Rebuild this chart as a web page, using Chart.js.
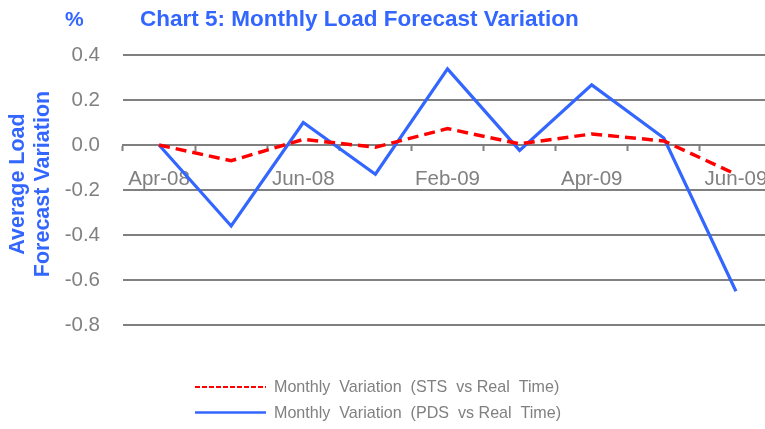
<!DOCTYPE html>
<html>
<head>
<meta charset="utf-8">
<script src="https://cdn.jsdelivr.net/npm/chart.js@4/dist/chart.umd.min.js"></script>
<style>
  html, body { margin: 0; padding: 0; background: #ffffff; overflow: hidden; width: 765px; height: 429px; }
  canvas { display: block; }
</style>
</head>
<body>
<canvas id="c" width="772" height="429"></canvas>
<script>
// ---- data ----
const categories = ['Apr-08', 'May-08', 'Jun-08', 'Jan-09', 'Feb-09', 'Mar-09', 'Apr-09', 'May-09', 'Jun-09'];
const stsVariation = [0.00, -0.07, 0.025, -0.01, 0.073, 0.005, 0.049, 0.018, -0.13];
const pdsVariation = [0.00, -0.36, 0.10, -0.13, 0.338, -0.024, 0.267, 0.031, -0.65];
const seriesNames = ['Monthly  Variation  (STS  vs Real  Time)', 'Monthly  Variation  (PDS  vs Real  Time)'];
const chartTitle = 'Chart 5: Monthly Load Forecast Variation';
const unitLabel = '%';
const yAxisTitle = ['Average Load', 'Forecast Variation'];
const yTicks = { min: -0.8, max: 0.4, step: 0.2 };

const FONT = "'Liberation Sans', Arial, sans-serif";
const GRAY = '#808080';
const BLUE = '#3366FF';
const RED = '#FF0000';

const headerPlugin = {
  id: 'header',
  afterDraw(chart) {
    const ctx = chart.ctx;
    ctx.save();
    ctx.fillStyle = BLUE;
    ctx.textBaseline = 'middle';
    ctx.textAlign = 'left';
    ctx.font = 'bold 21px ' + FONT;
    ctx.fillText(unitLabel, 65, 20);
    ctx.font = 'bold 22.5px ' + FONT;
    ctx.fillText(chartTitle, 140, 20);
    // y-axis title (two rotated lines)
    ctx.font = 'bold 21.5px ' + FONT;
    ctx.textAlign = 'center';
    yAxisTitle.forEach((line, i) => {
      ctx.save();
      ctx.translate(18 + i * 25, 184);
      ctx.rotate(-Math.PI / 2);
      ctx.fillText(line, 0, 0);
      ctx.restore();
    });
    ctx.restore();
  }
};

const legendPlugin = {
  id: 'customLegend',
  afterDraw(chart) {
    const ctx = chart.ctx;
    ctx.save();
    chart.data.datasets.forEach((ds, i) => {
      const y = 387 + i * 25.5;
      ctx.beginPath();
      ctx.strokeStyle = ds.borderColor;
      ctx.lineWidth = ds.legendLineWidth;
      ctx.setLineDash(ds.legendDash);
      ctx.moveTo(195, y);
      ctx.lineTo(266, y);
      ctx.stroke();
      ctx.setLineDash([]);
      ctx.fillStyle = GRAY;
      ctx.font = '16.1px ' + FONT;
      ctx.textBaseline = 'middle';
      ctx.textAlign = 'left';
      ctx.fillText(ds.label, 274, y + 1);
    });
    ctx.restore();
  }
};

new Chart(document.getElementById('c'), {
  type: 'line',
  data: {
    labels: categories,
    datasets: [
      {
        label: seriesNames[0],
        data: stsVariation,
        borderColor: RED,
        backgroundColor: RED,
        borderWidth: 3.5,
        borderDash: [11, 6],
        pointRadius: 0,
        tension: 0,
        fill: false,
        legendDash: [5, 2],
        legendLineWidth: 2
      },
      {
        label: seriesNames[1],
        data: pdsVariation,
        borderColor: BLUE,
        backgroundColor: BLUE,
        borderWidth: 3.2,
        pointRadius: 0,
        tension: 0,
        fill: false,
        legendDash: [],
        legendLineWidth: 2.5
      }
    ]
  },
  options: {
    responsive: false,
    animation: false,
    devicePixelRatio: 1,
    layout: { padding: { top: 55, bottom: 104, left: 0, right: 0 } },
    plugins: {
      legend: { display: false },
      title: { display: false },
      tooltip: { enabled: false }
    },
    scales: {
      x: {
        type: 'category',
        position: { y: 0 },
        offset: true,
        border: { display: true, color: GRAY, width: 2 },
        grid: {
          display: true,
          offset: true,
          drawOnChartArea: false,
          drawTicks: true,
          tickLength: 5,
          tickWidth: 2,
          tickColor: GRAY,
          color: GRAY
        },
        ticks: {
          autoSkip: false,
          maxRotation: 0,
          minRotation: 0,
          padding: 17,
          color: GRAY,
          font: { family: FONT, size: 20.5 },
          callback: function (value, index) {
            return index % 2 === 0 ? this.getLabelForValue(value) : '';
          }
        },
        afterFit: (s) => { s.paddingLeft = 0; s.paddingRight = 0; }
      },
      y: {
        position: 'left',
        min: yTicks.min,
        max: yTicks.max,
        border: { display: false },
        grid: {
          color: GRAY,
          lineWidth: 2,
          drawTicks: false
        },
        ticks: {
          stepSize: yTicks.step,
          padding: 23,
          color: GRAY,
          font: { family: FONT, size: 20.5 },
          callback: (v) => (Math.abs(v) < 1e-9 ? 0 : v).toFixed(1)
        },
        title: { display: false },
        afterFit: (s) => { s.width = 123; }
      }
    }
  },
  plugins: [headerPlugin, legendPlugin]
});
</script>
</body>
</html>
